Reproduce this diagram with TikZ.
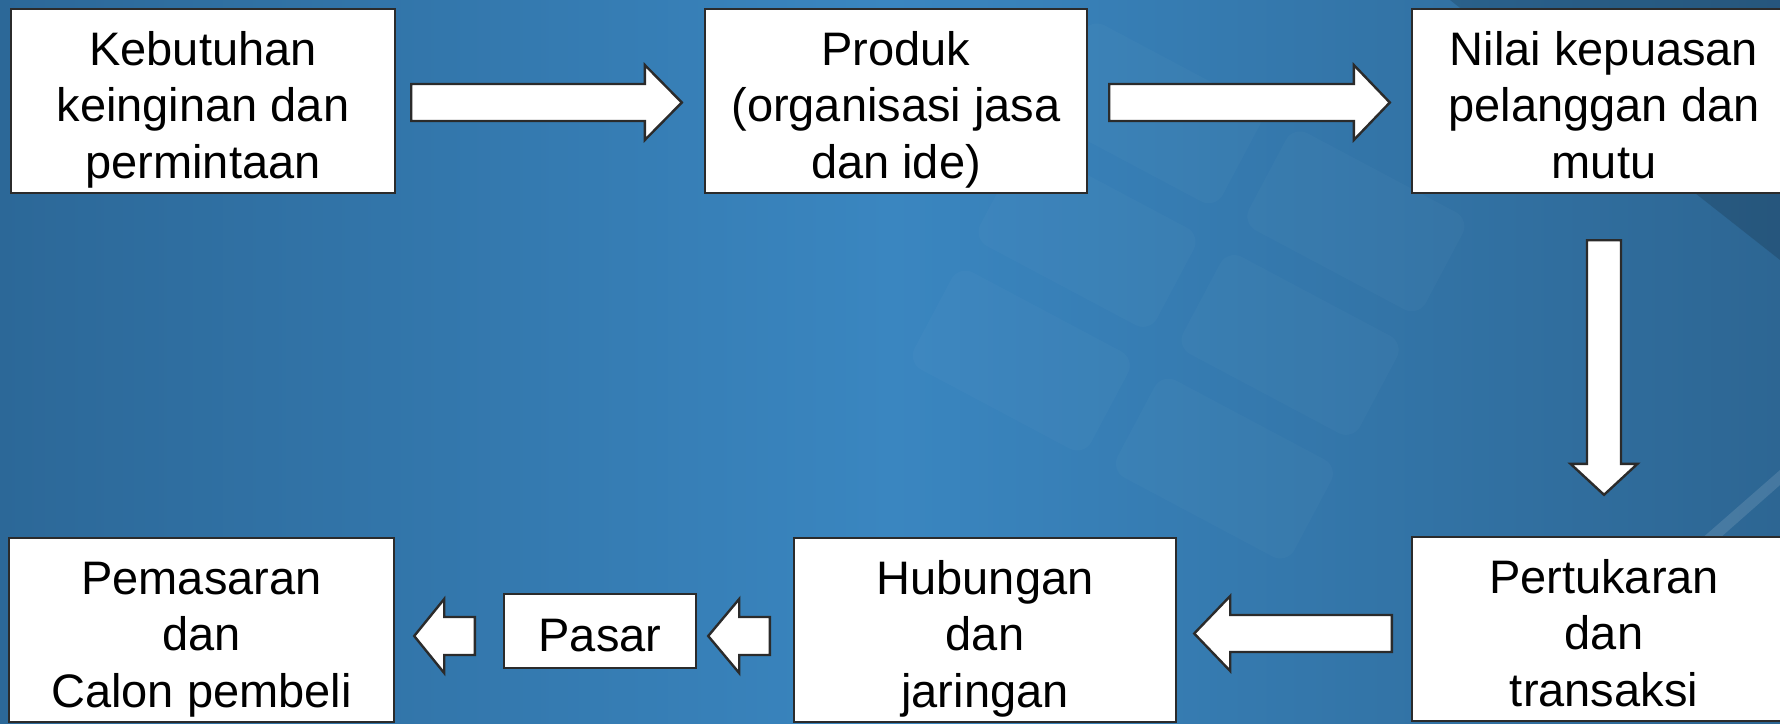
\documentclass[tikz,border=0pt]{standalone}
\usepackage{fontspec}
\setmainfont{Liberation Sans}
\usetikzlibrary{calc}
\definecolor{bgL}{HTML}{2C6898}
\definecolor{bgM}{HTML}{3A86C0}
\definecolor{bgR}{HTML}{2D6693}
\definecolor{edgec}{HTML}{2B2B2B}
\newcommand\mytop{\rule{0pt}{25.5pt}}
\newcommand\mybot{\rule[-5pt]{0pt}{5pt}}
\newcommand\harr[5]{\draw[blk] let \p1=(#1), \p2=(#2) in
  (\x1,{\y1+#3}) -- ({\x2-(#5)},{\y1+#3}) -- ({\x2-(#5)},{\y1+#4}) -- (\x2,\y1)
  -- ({\x2-(#5)},{\y1-#4}) -- ({\x2-(#5)},{\y1-#3}) -- (\x1,{\y1-#3}) -- cycle;}
\newcommand\varr[5]{\draw[blk] let \p1=(#1), \p2=(#2) in
  ({\x1-#3},\y1) -- ({\x1-#3},{\y2-(#5)}) -- ({\x1-#4},{\y2-(#5)}) -- (\x1,\y2)
  -- ({\x1+#4},{\y2-(#5)}) -- ({\x1+#3},{\y2-(#5)}) -- ({\x1+#3},\y1) -- cycle;}
\tikzset{
  box/.style={draw=edgec, line width=1.2pt, fill=white, rectangle, inner sep=0pt,
    align=center, text=black, font=\fontsize{23.5}{28.25}\selectfont},
  bigbox/.style={box, minimum width=192pt, minimum height=92pt},
  blk/.style={draw=edgec, line width=1.2pt, fill=white, line join=miter},
  keyshape/.style={fill=white, fill opacity=0.025, rounded corners=8pt},
}
\begin{document}
\begin{tikzpicture}[x=0.5pt,y=-0.5pt]
\useasboundingbox (0,0) rectangle (1780,723);
\clip (0,0) rectangle (1780,723);
% background
\shade[left color=bgL, right color=bgR, middle color=bgM] (0,0) rectangle (1780,723);
\fill[black, opacity=0.15] (1450,0) -- (1780,0) -- (1780,260) -- cycle;
\begin{scope}[rotate around={-28:(1250,250)}]
  \fill[keyshape] (1000,120) rectangle (1200,230);
  \fill[keyshape] (1230,120) rectangle (1430,230);
  \fill[keyshape] (1000,260) rectangle (1200,370);
  \fill[keyshape] (1230,260) rectangle (1430,370);
  \fill[keyshape] (1000,400) rectangle (1200,510);
  \fill[keyshape] (1230,400) rectangle (1430,510);
\end{scope}
\fill[white, opacity=0.12] (1700,540) -- (1780,470) -- (1780,485) -- (1712,545) -- cycle;
% boxes
\node[bigbox] (b1) at (203,101) {\mytop Kebutuhan\\keinginan dan\\permintaan\mybot};
\node[bigbox, minimum width=191pt] (b2) at (896,101) {\mytop Produk\\(organisasi jasa\\dan ide)\mybot};
\node[bigbox] (b3) at (1604,101) {\mytop Nilai kepuasan\\pelanggan dan\\mutu\mybot};
\node[bigbox] (b4) at (1604,629) {\mytop Pertukaran\\dan\\transaksi\mybot};
\node[bigbox, minimum width=191pt] (b5) at (985,630) {\mytop Hubungan\\dan\\jaringan\mybot};
\node[bigbox, minimum width=192.5pt] (b6) at (201.5,630) {\mytop Pemasaran\\dan\\Calon pembeli\mybot};
\node[box, minimum width=96pt, minimum height=37pt] (pasar) at (600,631) {\mytop Pasar\mybot};
% arrows
\coordinate (a1s) at ($(b1.east)+(15,1.5)$);
\coordinate (a1e) at ($(b2.west)+(-22,1.5)$);
\coordinate (a2s) at ($(b2.east)+(21,1.5)$);
\coordinate (a2e) at ($(b3.west)+(-21,1.5)$);
\coordinate (a3s) at ($(b3.south)+(0,46)$);
\coordinate (a3e) at ($(b4.north)+(0,-41)$);
\coordinate (a4s) at ($(b4.west)+(-19,4.5)$);
\coordinate (a4e) at ($(b5.east)+(17,4.5)$);
\coordinate (a5s) at ($(b5.west)+(-23,6)$);
\coordinate (a5e) at ($(pasar.east)+(11,6)$);
\coordinate (a6s) at ($(pasar.west)+(-28,5)$);
\coordinate (a6e) at ($(b6.east)+(19,5)$);
\harr{a1s}{a1e}{9.25pt}{18.75pt}{18.5pt}
\harr{a2s}{a2e}{9.25pt}{18.75pt}{18pt}
\varr{a3s}{a3e}{8.5pt}{16.75pt}{-15.5pt}
\harr{a4s}{a4e}{9.25pt}{18.75pt}{-18pt}
\harr{a5s}{a5e}{9.5pt}{18.5pt}{-15.5pt}
\harr{a6s}{a6e}{9.5pt}{18.5pt}{-15pt}
\end{tikzpicture}
\end{document}
